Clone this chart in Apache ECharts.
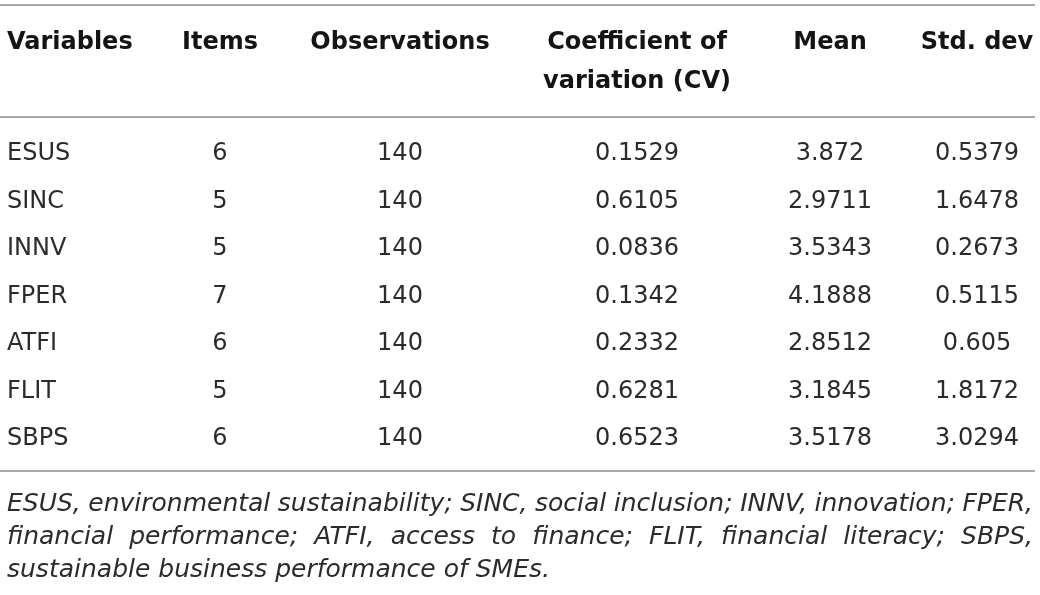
<!DOCTYPE html>
<html>
<head>
<meta charset="utf-8">
<script src="https://cdn.jsdelivr.net/npm/echarts@6/dist/echarts.min.js"></script>
<style>
html, body { margin: 0; padding: 0; background: #fff; }
#main { width: 1040px; height: 595px; }
</style>
</head>
<body>
<div id="main"></div>
<script>
// table values
var variables = ['ESUS', 'SINC', 'INNV', 'FPER', 'ATFI', 'FLIT', 'SBPS'];
var items = [6, 5, 5, 7, 6, 5, 6];
var observations = [140, 140, 140, 140, 140, 140, 140];
var cv = [0.1529, 0.6105, 0.0836, 0.1342, 0.2332, 0.6281, 0.6523];
var mean = [3.872, 2.9711, 3.5343, 4.1888, 2.8512, 3.1845, 3.5178];
var stdDev = [0.5379, 1.6478, 0.2673, 0.5115, 0.605, 1.8172, 3.0294];

var headers = [['Variables'], ['Items'], ['Observations'], ['Coefficient of', 'variation (CV)'], ['Mean'], ['Std. dev']];
var notes = [
    'ESUS, environmental sustainability; SINC, social inclusion; INNV, innovation; FPER,',
    'financial performance; ATFI, access to finance; FLIT, financial literacy; SBPS,',
    'sustainable business performance of SMEs.'
];

// layout
var columns = [variables, items, observations, cv, mean, stdDev];
var colX = [7, 220, 400, 637, 830, 977];
var colAlign = ['left', 'center', 'center', 'center', 'center', 'center'];
var FONT = '"DejaVu Sans", sans-serif';
var bodyFont = '24px ' + FONT;
var headFont = 'bold 24px ' + FONT;
var noteFont = 'italic 25px ' + FONT;
var lineColor = '#8c8c8c';
var textColor = '#2b2b2b';

var cells = [];
for (var r = 0; r < variables.length; r++) {
    for (var c = 0; c < columns.length; c++) {
        cells.push([colX[c], r, c]);
    }
}

var graphics = [];
// rules
[5, 117, 471].forEach(function (y) {
    graphics.push({
        type: 'line',
        shape: {x1: 0, y1: y, x2: 1035, y2: y},
        style: {stroke: lineColor, lineWidth: 1.5}
    });
});
// header
for (var h = 0; h < headers.length; h++) {
    for (var k = 0; k < headers[h].length; k++) {
        graphics.push({
            type: 'text',
            x: colX[h],
            y: 43 + k * 39,
            style: {
                text: headers[h][k], font: headFont, fill: '#141414',
                align: colAlign[h], verticalAlign: 'middle'
            }
        });
    }
}
// footnote, justified like the source
var ctx = document.createElement('canvas').getContext('2d');
ctx.font = noteFont;
var noteLeft = 7, noteRight = 1033;
notes.forEach(function (line, i) {
    var words = line.split(' ');
    var widths = words.map(function (w) { return ctx.measureText(w).width; });
    var total = widths.reduce(function (a, b) { return a + b; }, 0);
    var justify = i < notes.length - 1;
    var gap = justify ? (noteRight - noteLeft - total) / (words.length - 1) : ctx.measureText(' ').width;
    var x = noteLeft;
    words.forEach(function (w, j) {
        graphics.push({
            type: 'text',
            x: x,
            y: 504 + i * 33,
            style: {text: w, font: noteFont, fill: textColor, align: 'left', verticalAlign: 'middle'}
        });
        x += widths[j] + gap;
    });
});

var chart = echarts.init(document.getElementById('main'));
var option = {
    animation: false,
    grid: {left: 0, right: 0, top: 130.25, height: 332.5},
    xAxis: {type: 'value', min: 0, max: 1040, show: false},
    yAxis: {type: 'category', data: variables, inverse: true, show: false},
    graphic: graphics,
    series: [{
        type: 'custom',
        data: cells,
        renderItem: function (params, api) {
            var p = api.coord([api.value(0), api.value(1)]);
            var c = api.value(2);
            var r = api.value(1);
            return {
                type: 'text',
                x: p[0],
                y: p[1],
                style: {
                    text: String(columns[c][r]), font: bodyFont, fill: textColor,
                    align: colAlign[c], verticalAlign: 'middle'
                }
            };
        }
    }]
};
chart.setOption(option);
</script>
</body>
</html>
